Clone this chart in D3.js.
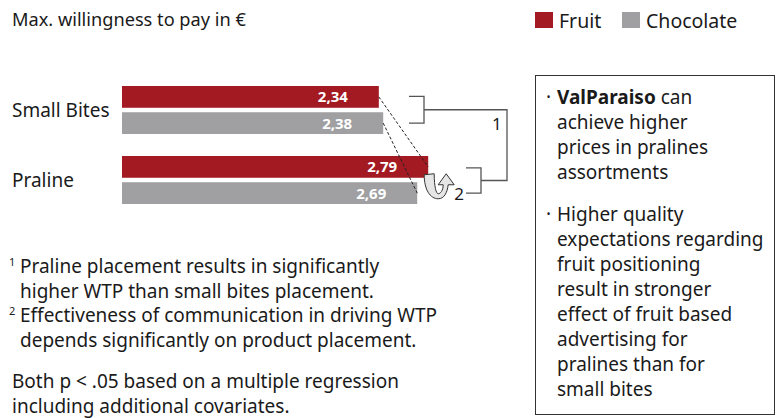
<!DOCTYPE html>
<html>
<head>
<meta charset="utf-8">
<script src="https://cdn.jsdelivr.net/npm/d3@7"></script>
<style>
  body { margin: 0; background: #fff; }
  svg { display: block; font-family: "Noto Sans", sans-serif; }
  .txt { fill: #1a1a1a; }
  .bar-label { fill: #fff; font-weight: bold; font-size: 15px; text-anchor: end; }
</style>
</head>
<body>
<svg id="chart"></svg>
<script>
// chart data
const categories = ["Small Bites", "Praline"];
const series = ["Fruit", "Chocolate"];
const fruitValues = [2.34, 2.79];
const chocolateValues = [2.38, 2.69];
const valueLabels = { Fruit: ["2,34", "2,79"], Chocolate: ["2,38", "2,69"] };

const boxLines = [
  [{ t: "ValParaiso", b: true }, { t: " can" }],
  [{ t: "achieve higher" }],
  [{ t: "prices in pralines" }],
  [{ t: "assortments" }],
  null,
  [{ t: "Higher quality" }],
  [{ t: "expectations regarding" }],
  [{ t: "fruit positioning" }],
  [{ t: "result in stronger" }],
  [{ t: "effect of fruit based" }],
  [{ t: "advertising for" }],
  [{ t: "pralines than for" }],
  [{ t: "small bites" }]
];

const footnotes = [
  { sup: "1", lines: ["Praline placement results in significantly", "higher WTP than small bites placement."] },
  { sup: "2", lines: ["Effectiveness of communication in driving WTP", "depends significantly on product placement."] }
];
const noteLines = ["Both p < .05 based on a multiple regression", "including additional covariates."];

const config = {
  width: 780, height: 418,
  colors: { Fruit: "#a31a22", Chocolate: "#a0a0a2" }
};

const svg = d3.select("#chart")
    .attr("width", config.width)
    .attr("height", config.height);

// rows -> one object per bar
const data = [];
categories.forEach((c, i) => {
  data.push({ cat: c, series: "Fruit", value: fruitValues[i], label: valueLabels.Fruit[i] });
  data.push({ cat: c, series: "Chocolate", value: chocolateValues[i], label: valueLabels.Chocolate[i] });
});

// scales
const xScale = d3.scaleLinear().domain([0, 3]).range([122, 122 + 3 * 109.75]);
const yScale = d3.scaleBand().domain(categories).range([86, 204]).paddingInner(0.314);
const ySub = d3.scaleBand().domain(series).range([0, yScale.bandwidth()]).paddingInner(0.17);
const colorScale = d3.scaleOrdinal().domain(series).range([config.colors.Fruit, config.colors.Chocolate]);

const barY = d => yScale(d.cat) + ySub(d.series);
const barMid = d => barY(d) + ySub.bandwidth() / 2;

// title
svg.append("text").attr("class", "txt")
    .attr("x", 12).attr("y", 26)
    .style("font-size", "18.2px")
    .text("Max. willingness to pay in €");

// legend
const legend = svg.append("g").attr("transform", "translate(535,12)");
const legendX = { Fruit: 0, Chocolate: 87 };
legend.selectAll("rect")
    .data(series)
  .join("rect")
    .attr("x", d => legendX[d])
    .attr("y", 0)
    .attr("width", 18).attr("height", 16)
    .attr("fill", d => colorScale(d));
legend.selectAll("text")
    .data(series)
  .join("text")
    .attr("class", "txt")
    .attr("x", d => legendX[d] + 24)
    .attr("y", 16)
    .style("font-size", "19.5px")
    .text(d => d);

// category labels
svg.selectAll(".cat-label")
    .data(categories)
  .join("text")
    .attr("class", "cat-label txt")
    .attr("x", 12)
    .attr("y", d => yScale(d) + yScale.bandwidth() / 2 + 7)
    .style("font-size", "19px")
    .text(d => d);

// bars
svg.selectAll(".bar")
    .data(data)
  .join("rect")
    .attr("class", "bar")
    .attr("x", xScale(0))
    .attr("y", barY)
    .attr("width", d => xScale(d.value) - xScale(0))
    .attr("height", ySub.bandwidth())
    .attr("fill", d => colorScale(d.series));

svg.selectAll(".bar-label")
    .data(data)
  .join("text")
    .attr("class", "bar-label")
    .attr("x", d => xScale(d.value) - 31)
    .attr("y", d => barMid(d) + 5.5)
    .text(d => d.label);

// dashed connectors between placements
series.forEach(s => {
  const a = data.find(d => d.cat === categories[0] && d.series === s);
  const b = data.find(d => d.cat === categories[1] && d.series === s);
  svg.append("line")
      .attr("x1", xScale(a.value)).attr("y1", barMid(a))
      .attr("x2", xScale(b.value)).attr("y2", barMid(b))
      .attr("stroke", "#222").attr("stroke-width", 1)
      .attr("stroke-dasharray", "3,2");
});

// brackets
const bracketColor = "#555";
const sbTop = yScale(categories[0]) + ySub.bandwidth() / 2 - 0.5;
const sbBot = yScale(categories[0]) + ySub("Chocolate") + ySub.bandwidth() / 2;
const prTop = yScale(categories[1]) + ySub.bandwidth() / 2 + 1;
const prBot = yScale(categories[1]) + ySub("Chocolate") + ySub.bandwidth() / 2;
const brk = svg.append("g").attr("fill", "none").attr("stroke", bracketColor).attr("stroke-width", 1.3);
brk.append("path").attr("d", `M409,${sbTop}H424V${sbBot}H409`);
brk.append("path").attr("d", `M466,${prTop}H481V${prBot}H466`);
const sbMid = (sbTop + sbBot) / 2, prMid = (prTop + prBot) / 2;
brk.append("path").attr("d", `M424,${sbMid}H507V${prMid}H481`);

svg.append("text").attr("class", "txt")
    .attr("x", 492).attr("y", 130)
    .style("font-size", "17px").text("1");

// u-turn arrow icon
const ax = xScale(fruitValues[1]) - 4, ay = yScale(categories[1]) + ySub.bandwidth() - 5;
svg.append("path")
    .attr("transform", `translate(${ax},${ay})`)
    .attr("d", "M0,2 C0,17 6,26 14,26 C20,26 23,20 24,12 L30,12 L22,1 L14,12 L19,12 C19,18 16,21 14,21 C12,21 10,14 10,1 Z")
    .attr("fill", "#e6e6e6").attr("stroke", "#333").attr("stroke-width", 1);
svg.append("text").attr("class", "txt")
    .attr("x", ax + 30).attr("y", ay + 27)
    .style("font-size", "17px").text("2");

// footnotes
let fy = 273;
const fn = svg.append("g").style("font-size", "19px");
footnotes.forEach(f => {
  f.lines.forEach((l, i) => {
    if (i === 0) {
      fn.append("text").attr("class", "txt")
          .attr("x", 9).attr("y", fy - 7).style("font-size", "11px").text(f.sup);
    }
    fn.append("text").attr("class", "txt")
        .attr("x", 20).attr("y", fy).text(l);
    fy += 24.7;
  });
});
noteLines.forEach((l, i) => {
  fn.append("text").attr("class", "txt")
      .attr("x", 12).attr("y", 388 + i * 24.8).text(l);
});

// right-hand summary box
svg.append("rect")
    .attr("x", 535.5).attr("y", 75.5)
    .attr("width", 239).attr("height", 339)
    .attr("fill", "none").attr("stroke", "#333").attr("stroke-width", 1);

const box = svg.append("g").style("font-size", "19px");
let by = 103.5, firstOfPara = true;
boxLines.forEach(line => {
  if (line === null) { by += 17.5; firstOfPara = true; return; }
  if (firstOfPara) {
    box.append("text").attr("class", "txt")
        .attr("x", 546).attr("y", by).text("·");
  }
  const t = box.append("text").attr("class", "txt").attr("x", 557).attr("y", by);
  line.forEach(p => {
    t.append("tspan").style("font-weight", p.b ? "bold" : null).text(p.t);
  });
  by += 25;
  firstOfPara = false;
});
</script>
</body>
</html>
